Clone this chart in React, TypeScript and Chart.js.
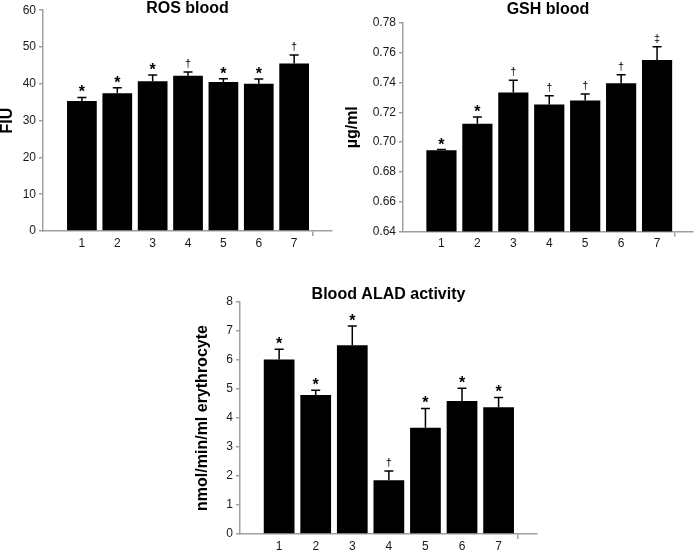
import { useEffect, useRef } from "react"
import { Chart, registerables, type ChartConfiguration, type Plugin } from "chart.js"

Chart.register(...registerables)

// groups on the x axis
const categories = ["1", "2", "3", "4", "5", "6", "7"]
const groupPositions = [1, 2, 3, 4, 5, 6, 7]

// ROS blood (FIU)
const rosMean = [35.3, 37.4, 40.7, 42.2, 40.5, 40.0, 45.5]
const rosError = [1.0, 1.5, 1.7, 1.0, 0.9, 1.3, 2.3]
const rosMarks = ["*", "*", "*", "†", "*", "*", "†"]

// GSH blood (µg/ml)
const gshMean = [0.6945, 0.7123, 0.7333, 0.7253, 0.728, 0.7396, 0.7552]
const gshError = [0.0005, 0.0045, 0.0083, 0.0058, 0.0044, 0.0056, 0.0089]
const gshMarks = ["*", "*", "†", "†", "†", "†", "‡"]

// Blood ALAD activity (nmol/min/ml erythrocyte)
const aladMean = [6.02, 4.79, 6.51, 1.85, 3.66, 4.59, 4.37]
const aladError = [0.35, 0.17, 0.66, 0.32, 0.67, 0.44, 0.34]
const aladMarks = ["*", "*", "*", "†", "*", "*", "*"]

const FONT = "'Liberation Sans', Arial, Helvetica, sans-serif"
const AXIS_GRAY = "#a0a0a0"
const TEXT = "#1a1a1a"

const markStyles: Record<string, { font: string; lift: number }> = {
  "*": { font: `bold 16px ${FONT}`, lift: 0 },
  "†": { font: `11px ${FONT}`, lift: 5 },
  "‡": { font: `11px ${FONT}`, lift: 5 },
}

// upward error bars with a cap, plus the significance mark above each one
const errorBarPlugin: Plugin<"bar"> = {
  id: "errorBars",
  afterDatasetsDraw(chart, _args, opts: any) {
    const { ctx } = chart
    const x = chart.scales.x
    const y = chart.scales.y
    const points = chart.data.datasets[0].data as unknown as { x: number; y: number }[]
    ctx.save()
    ctx.strokeStyle = "#000"
    ctx.lineWidth = 1.5
    points.forEach((pt, i) => {
      const px = x.getPixelForValue(pt.x)
      const yBar = y.getPixelForValue(pt.y)
      const yTop = y.getPixelForValue(pt.y + opts.errors[i])
      ctx.beginPath()
      ctx.moveTo(px, yBar)
      ctx.lineTo(px, yTop)
      ctx.moveTo(px - 4.5, yTop)
      ctx.lineTo(px + 4.5, yTop)
      ctx.stroke()
      const mark = opts.marks[i]
      const style = markStyles[mark]
      ctx.font = style.font
      ctx.fillStyle = "#000"
      ctx.textAlign = "center"
      ctx.textBaseline = "alphabetic"
      ctx.fillText(mark, px, yTop - style.lift)
    })
    ctx.restore()
  },
}

// panel title sits level with the top of the axis, so it is drawn by hand
const panelTitlePlugin: Plugin<"bar"> = {
  id: "panelTitle",
  afterDraw(chart, _args, opts: any) {
    const { ctx, chartArea } = chart
    ctx.save()
    ctx.font = `bold 16px ${FONT}`
    ctx.fillStyle = "#000"
    ctx.textAlign = "center"
    ctx.textBaseline = "alphabetic"
    ctx.fillText(opts.text, (chartArea.left + chartArea.right) / 2, opts.baseline)
    ctx.restore()
  },
}

interface PanelProps {
  title: string
  yTitle: string
  means: number[]
  errors: number[]
  marks: string[]
  yMin: number
  yMax: number
  yStep: number
  decimals: number
  xMin: number
  xMax: number
  box: { left: number; top: number; width: number; height: number }
  yAxisWidth: number
  xAxisHeight: number
  padTop: number
  padRight: number
  yTitlePad: number
  titleBaseline: number
}

function BarPanel(p: PanelProps) {
  const canvasRef = useRef<HTMLCanvasElement | null>(null)
  const chartRef = useRef<Chart | null>(null)

  useEffect(() => {
    if (!canvasRef.current) return
    const ctx = canvasRef.current.getContext("2d")
    if (!ctx) return
    if (chartRef.current) chartRef.current.destroy()

    const lastTick = groupPositions.length + 1

    const config: ChartConfiguration<"bar"> = {
      type: "bar",
      data: {
        datasets: [
          {
            data: groupPositions.map((x, i) => ({ x, y: p.means[i] })) as any,
            backgroundColor: "#000",
            borderWidth: 0,
            barPercentage: 0.84,
            categoryPercentage: 1,
          },
        ],
      },
      options: {
        animation: false,
        responsive: true,
        maintainAspectRatio: false,
        layout: { padding: { top: p.padTop, right: p.padRight, left: 0, bottom: 0 } },
        plugins: {
          legend: { display: false },
          tooltip: { enabled: false },
          title: { display: false },
          errorBars: { errors: p.errors, marks: p.marks },
          panelTitle: { text: p.title, baseline: p.titleBaseline },
        } as any,
        scales: {
          x: {
            type: "linear",
            min: p.xMin,
            max: p.xMax,
            offset: false,
            afterBuildTicks: (scale) => {
              scale.ticks = [p.xMin, ...groupPositions, p.xMax].map((value) => ({ value }))
            },
            afterFit: (scale) => {
              scale.height = p.xAxisHeight
            },
            ticks: {
              autoSkip: false,
              maxRotation: 0,
              padding: 0,
              color: TEXT,
              font: { family: FONT, size: 12 },
              callback: (v) => {
                const i = groupPositions.indexOf(Number(v))
                return i >= 0 ? categories[i] : ""
              },
            },
            grid: {
              drawOnChartArea: false,
              tickLength: 5,
              lineWidth: 1.5,
              color: (c) => (c.index === 0 || c.index === lastTick ? AXIS_GRAY : "rgba(0,0,0,0)"),
            },
            border: { color: AXIS_GRAY, width: 1.5 },
          },
          y: {
            min: p.yMin,
            max: p.yMax,
            afterFit: (scale) => {
              scale.width = p.yAxisWidth
            },
            ticks: {
              stepSize: p.yStep,
              padding: 3,
              color: TEXT,
              font: { family: FONT, size: 12 },
              callback: (v) => Number(v).toFixed(p.decimals),
            },
            grid: {
              drawOnChartArea: false,
              tickLength: 4,
              lineWidth: 1.5,
              color: AXIS_GRAY,
            },
            border: { color: AXIS_GRAY, width: 1.5 },
            title: {
              display: true,
              text: p.yTitle,
              color: "#000",
              font: { family: FONT, size: 16, weight: "bold", lineHeight: 1 },
              padding: { top: p.yTitlePad, bottom: 0 },
            },
          },
        },
      },
      plugins: [errorBarPlugin, panelTitlePlugin],
    }

    chartRef.current = new Chart(ctx, config)

    return () => {
      if (chartRef.current) {
        chartRef.current.destroy()
        chartRef.current = null
      }
    }
  }, [p])

  return (
    <div
      style={{
        position: "absolute",
        left: p.box.left,
        top: p.box.top,
        width: p.box.width,
        height: p.box.height,
      }}
    >
      <canvas ref={canvasRef} />
    </div>
  )
}

const rosPanel: PanelProps = {
  title: "ROS blood",
  yTitle: "FIU",
  means: rosMean,
  errors: rosError,
  marks: rosMarks,
  yMin: 0,
  yMax: 60,
  yStep: 10,
  decimals: 0,
  xMin: -0.1,
  xMax: 8.07,
  box: { left: 0, top: 0, width: 340, height: 252 },
  yAxisWidth: 43,
  xAxisHeight: 21,
  padTop: 9,
  padRight: 8,
  yTitlePad: 0,
  titleBaseline: 13,
}

const gshPanel: PanelProps = {
  title: "GSH blood",
  yTitle: "µg/ml",
  means: gshMean,
  errors: gshError,
  marks: gshMarks,
  yMin: 0.64,
  yMax: 0.78,
  yStep: 0.02,
  decimals: 2,
  xMin: -0.07,
  xMax: 8.0,
  box: { left: 340, top: 0, width: 355, height: 252 },
  yAxisWidth: 63,
  xAxisHeight: 20.5,
  padTop: 23,
  padRight: 2,
  yTitlePad: 5,
  titleBaseline: 14,
}

const aladPanel: PanelProps = {
  title: "Blood ALAD activity",
  yTitle: "nmol/min/ml erythrocyte",
  means: aladMean,
  errors: aladError,
  marks: aladMarks,
  yMin: 0,
  yMax: 8,
  yStep: 1,
  decimals: 0,
  xMin: -0.07,
  xMax: 8.05,
  box: { left: 190, top: 270, width: 357, height: 281 },
  yAxisWidth: 50,
  xAxisHeight: 17,
  padTop: 32,
  padRight: 10,
  yTitlePad: 5,
  titleBaseline: 29,
}

export default function App() {
  return (
    <div
      style={{
        position: "absolute",
        left: 0,
        top: 0,
        width: 695,
        height: 551,
        background: "#fff",
        fontFamily: FONT,
      }}
    >
      <BarPanel {...rosPanel} />
      <BarPanel {...gshPanel} />
      <BarPanel {...aladPanel} />
    </div>
  )
}
